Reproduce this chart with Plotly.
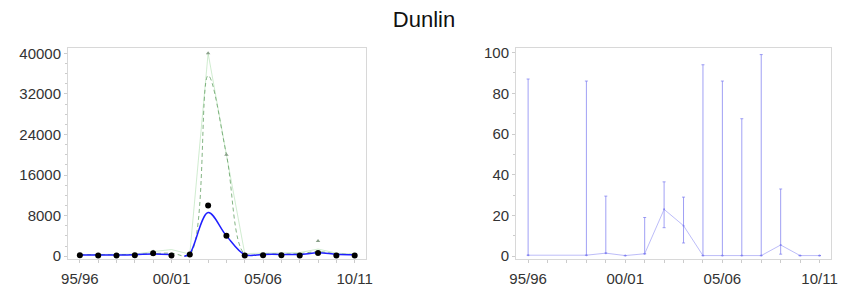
import plotly.graph_objects as go

# ---- data ----
years = ["95/96", "96/97", "97/98", "98/99", "99/00", "00/01", "01/02", "02/03",
         "03/04", "04/05", "05/06", "06/07", "07/08", "08/09", "09/10", "10/11"]
tick_labels = ["95/96", "00/01", "05/06", "10/11"]
tick_pos = [0, 5, 10, 15]
xi = list(range(len(years)))
left_yticks = [0, 8000, 16000, 24000, 32000, 40000]
right_yticks = [0, 20, 40, 60, 80, 100]

counts = [200, 150, 150, 200, 550, 150, 350, 10000, 4000, 150, 200, 200, 150, 600, 150, 150]
tri_x = [4, 7, 8, 13]
tri_vals = [900, 40000, 20000, 3000]
faint_green = [300, 300, 300, 400, 900, 1300, 400, 40000, 20000, 500, 600, 600, 700, 1400, 600, 400]
dashed_green = [300, 300, 300, 350, 500, 600, 300, 35600, 20000, 400, 450, 450, 500, 900, 450, 350]
trend_x = [0, 1, 2, 3, 4, 5, None, 5.7, 6, 7, 8, 9, 10, 11, 12, 13, 14, 15]
trend_y = [250, 250, 250, 300, 450, 350, None, 0, 500, 8600, 4000, 300, 350, 350, 350, 650, 400, 300]

pct = [0.5, None, None, 0.5, 1.5, 0.3, 1.2, 23, 15, 0.3, 0.3, 0.3, 0.3, 5.5, 0.3, 0.3]
pct_hi = [87, None, None, 86, 29.5, 0.3, 19, 36.5, 29, 94, 86, 67.5, 99, 33, 0.3, 0.3]
pct_lo = [0.5, None, None, 0.5, 1.5, 0.3, 1.2, 14, 6.5, 0.3, 0.3, 0.3, 0.3, 1, 0.3, 0.3]

# ---- figure ----
fig = go.Figure()

fig.add_trace(go.Scatter(x=xi, y=faint_green, mode="lines",
                         line=dict(color="rgba(170,220,170,0.55)", width=1),
                         xaxis="x", yaxis="y", hoverinfo="skip"))
fig.add_trace(go.Scatter(x=xi, y=dashed_green, mode="lines",
                         line=dict(color="rgba(100,160,100,0.8)", width=1, dash="4px,3px",
                                   shape="spline", smoothing=1.0),
                         xaxis="x", yaxis="y"))
fig.add_trace(go.Scatter(x=tri_x, y=tri_vals, mode="markers",
                         marker=dict(symbol="triangle-up", size=4, color="#8aa08a"),
                         xaxis="x", yaxis="y"))
fig.add_trace(go.Scatter(x=trend_x, y=trend_y, mode="lines", connectgaps=False,
                         line=dict(color="#2020ff", width=1.5, shape="spline", smoothing=1.0),
                         xaxis="x", yaxis="y"))
fig.add_trace(go.Scatter(x=xi, y=counts, mode="markers",
                         marker=dict(symbol="circle", size=6, color="black"),
                         xaxis="x", yaxis="y"))

err_plus = [None if (h is None or p is None) else h - p for h, p in zip(pct_hi, pct)]
err_minus = [None if (l is None or p is None) else p - l for l, p in zip(pct_lo, pct)]
fig.add_trace(go.Scatter(x=xi, y=pct, mode="lines+markers", connectgaps=True,
                         line=dict(color="rgba(160,160,245,0.7)", width=1),
                         marker=dict(size=2, color="rgba(120,120,240,0.8)"),
                         error_y=dict(type="data", symmetric=False, array=err_plus,
                                      arrayminus=err_minus, color="rgba(120,120,240,0.7)",
                                      thickness=1, width=1.5),
                         xaxis="x2", yaxis="y2"))

ydom = [(294 - 263) / 294, (294 - 45) / 294]
tick_font = dict(family="Arial, Liberation Sans", size=15, color="#333")
axis_common = dict(showline=True, linecolor="#d8d8d8", linewidth=1, mirror=True,
                   showgrid=False, zeroline=False, ticks="outside", ticklen=3,
                   tickcolor="#cccccc", tickfont=tick_font)

fig.update_layout(
    width=848, height=294,
    margin=dict(l=0, r=0, t=0, b=0),
    plot_bgcolor="white", paper_bgcolor="white",
    showlegend=False,
    title=dict(text="Dunlin", x=0.5, xanchor="center", y=1 - 19 / 294, yanchor="middle",
               font=dict(family="Arial, Liberation Sans", size=22, color="#111")),
    xaxis=dict(domain=[62 / 848, 365 / 848], range=[-0.645, 15.64],
               tickvals=tick_pos, ticktext=tick_labels, ticklabelstandoff=3,
               minor=dict(tickvals=xi, ticks="outside", ticklen=3, tickcolor="#cccccc"),
               **axis_common),
    yaxis=dict(domain=ydom, range=[-571, 40952], tickvals=left_yticks,
               ticktext=[str(v) for v in left_yticks],
               minor=dict(dtick=2000, ticks="outside", ticklen=2, tickcolor="#cccccc"),
               **axis_common),
    xaxis2=dict(domain=[517 / 848, 837 / 848], range=[-0.62, 15.6], anchor="y2",
                tickvals=tick_pos, ticktext=tick_labels, ticklabelstandoff=3,
                minor=dict(tickvals=xi, ticks="outside", ticklen=3, tickcolor="#cccccc"),
                **axis_common),
    yaxis2=dict(domain=ydom, range=[-1.4, 102], anchor="x2", tickvals=right_yticks,
                ticktext=[str(v) for v in right_yticks],
                minor=dict(dtick=10, ticks="outside", ticklen=2, tickcolor="#cccccc"),
                **axis_common),
)

fig.write_html("out.html", config={"displayModeBar": False},
               post_script="document.body.style.margin='0';document.body.style.padding='0';"
                           "document.body.style.overflow='hidden';")
